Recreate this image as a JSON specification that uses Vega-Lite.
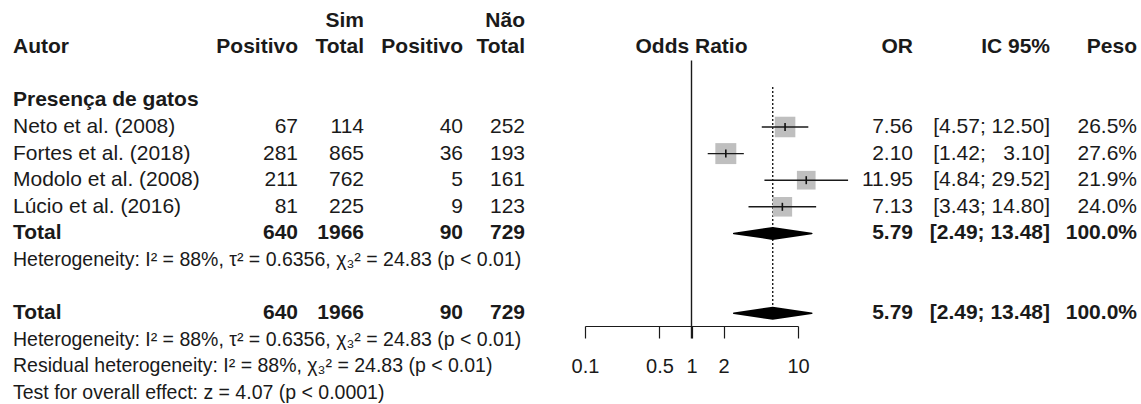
{
  "$schema": "https://vega.github.io/schema/vega-lite/v6.json",
  "width": 1141,
  "height": 404,
  "autosize": {"type": "none"},
  "padding": 0,
  "background": "white",
  "config": {"view": {"stroke": null}, "font": "Liberation Sans", "text": {"font": "Liberation Sans", "color": "#1a1a1a"}},
  "datasets": {
    "rows": [
      {"r": 0, "kind": "header0", "st": "Sim", "nt": "Não"},
      {"r": 1, "kind": "header", "autor": "Autor", "sp": "Positivo", "st": "Total", "np": "Positivo", "nt": "Total", "orv": "OR", "ci": "IC 95%", "peso": "Peso", "forest": "Odds Ratio"},
      {"r": 3, "kind": "group", "autor": "Presença de gatos"},
      {"r": 4, "kind": "study", "autor": "Neto et al. (2008)", "sp": "67", "st": "114", "np": "40", "nt": "252", "orv": "7.56", "ci": "[4.57; 12.50]", "peso": "26.5%", "or": 7.56, "lo": 4.57, "hi": 12.5, "w": 26.5},
      {"r": 5, "kind": "study", "autor": "Fortes et al. (2018)", "sp": "281", "st": "865", "np": "36", "nt": "193", "orv": "2.10", "ci": "[1.42; \u20073.10]", "peso": "27.6%", "or": 2.10, "lo": 1.42, "hi": 3.10, "w": 27.6},
      {"r": 6, "kind": "study", "autor": "Modolo et al. (2008)", "sp": "211", "st": "762", "np": "5", "nt": "161", "orv": "11.95", "ci": "[4.84; 29.52]", "peso": "21.9%", "or": 11.95, "lo": 4.84, "hi": 29.52, "w": 21.9},
      {"r": 7, "kind": "study", "autor": "Lúcio et al. (2016)", "sp": "81", "st": "225", "np": "9", "nt": "123", "orv": "7.13", "ci": "[3.43; 14.80]", "peso": "24.0%", "or": 7.13, "lo": 3.43, "hi": 14.80, "w": 24.0},
      {"r": 8, "kind": "total", "autor": "Total", "sp": "640", "st": "1966", "np": "90", "nt": "729", "orv": "5.79", "ci": "[2.49; 13.48]", "peso": "100.0%", "or": 5.79, "lo": 2.49, "hi": 13.48},
      {"r": 9, "kind": "note", "autor": "Heterogeneity: I² = 88%, τ² = 0.6356, χ₃² = 24.83 (p < 0.01)"},
      {"r": 11, "kind": "overall", "autor": "Total", "sp": "640", "st": "1966", "np": "90", "nt": "729", "orv": "5.79", "ci": "[2.49; 13.48]", "peso": "100.0%", "or": 5.79, "lo": 2.49, "hi": 13.48},
      {"r": 12, "kind": "note", "autor": "Heterogeneity: I² = 88%, τ² = 0.6356, χ₃² = 24.83 (p < 0.01)"},
      {"r": 13, "kind": "note", "autor": "Residual heterogeneity: I² = 88%, χ₃² = 24.83 (p < 0.01)"},
      {"r": 14, "kind": "note", "autor": "Test for overall effect: z = 4.07 (p < 0.0001)"}
    ],
    "diamond": [
      {"r": 8, "val": 2.49, "mid": 0},
      {"r": 8, "val": 5.79, "mid": 1},
      {"r": 8, "val": 13.48, "mid": 0},
      {"r": 11, "val": 2.49, "mid": 0},
      {"r": 11, "val": 5.79, "mid": 1},
      {"r": 11, "val": 13.48, "mid": 0}
    ],
    "cols": [
      {"key": "autor", "idx": 0},
      {"key": "sp", "idx": 1},
      {"key": "st", "idx": 2},
      {"key": "np", "idx": 3},
      {"key": "nt", "idx": 4},
      {"key": "orv", "idx": 5},
      {"key": "ci", "idx": 6},
      {"key": "peso", "idx": 7}
    ]
  },
  "layer": [
    {
      "data": {"name": "rows"},
      "transform": [{"filter": "datum.kind == 'header'"}],
      "mark": {"type": "rule", "color": "#1a1a1a", "strokeWidth": 1.4},
      "encoding": {
        "x": {"datum": 1, "type": "quantitative", "scale": {"type": "log", "domain": [0.1, 10], "range": [585, 798], "nice": false, "zero": false}, "axis": {"values": [0.1, 0.5, 1, 2, 10], "format": "~g", "title": null, "grid": false, "tickSize": 12, "tickWidth": 1.2, "domainWidth": 1.2, "tickColor": "#1a1a1a", "domainColor": "#1a1a1a", "labelColor": "#1a1a1a", "labelFont": "Liberation Sans", "labelFontSize": 20, "labelPadding": 18, "offset": -78, "labelFlush": false, "labelOverlap": false, "labelBound": false}},
        "y": {"datum": 1.5, "type": "quantitative", "scale": {"domain": [-0.774, 14.413], "reverse": true, "nice": false, "zero": false}, "axis": null},
        "y2": {"datum": 11.95}
      }
    },
    {
      "data": {"name": "rows"},
      "transform": [{"filter": "datum.kind == 'overall'"}],
      "mark": {"type": "rule", "color": "#1a1a1a", "strokeWidth": 1.4, "strokeDash": [2, 2]},
      "encoding": {
        "x": {"field": "or", "type": "quantitative", "scale": {"type": "log", "domain": [0.1, 10], "range": [585, 798], "nice": false, "zero": false}, "axis": null},
        "y": {"datum": 2.5, "type": "quantitative", "axis": null},
        "y2": {"datum": 11}
      }
    },
    {
      "data": {"name": "rows"},
      "transform": [{"filter": "datum.kind == 'study'"}],
      "mark": {"type": "point", "shape": "square", "filled": true, "color": "#bfbfbf", "opacity": 1, "strokeWidth": 0},
      "encoding": {
        "x": {"field": "or", "type": "quantitative", "scale": {"type": "log", "domain": [0.1, 10], "range": [585, 798], "nice": false, "zero": false}, "axis": null},
        "y": {"field": "r", "type": "quantitative", "axis": null},
        "size": {"field": "w", "type": "quantitative", "scale": {"domain": [0, 27.6], "range": [0, 440], "zero": true}, "legend": null}
      }
    },
    {
      "data": {"name": "rows"},
      "transform": [{"filter": "datum.kind == 'study'"}],
      "mark": {"type": "rule", "color": "#1a1a1a", "strokeWidth": 1.4},
      "encoding": {
        "x": {"field": "lo", "type": "quantitative", "scale": {"type": "log", "domain": [0.1, 10], "range": [585, 798], "nice": false, "zero": false}, "axis": null},
        "x2": {"field": "hi"},
        "y": {"field": "r", "type": "quantitative", "axis": null}
      }
    },
    {
      "data": {"name": "rows"},
      "transform": [{"filter": "datum.kind == 'study'"}],
      "mark": {"type": "point", "shape": "M0,-1L0,1", "filled": false, "color": "#111", "strokeWidth": 1.6, "opacity": 1, "size": 64},
      "encoding": {
        "x": {"field": "or", "type": "quantitative", "scale": {"type": "log", "domain": [0.1, 10], "range": [585, 798], "nice": false, "zero": false}, "axis": null},
        "y": {"field": "r", "type": "quantitative", "axis": null}
      }
    },
    {
      "data": {"name": "diamond"},
      "mark": {"type": "trail", "color": "#000"},
      "encoding": {
        "x": {"field": "val", "type": "quantitative", "scale": {"type": "log", "domain": [0.1, 10], "range": [585, 798], "nice": false, "zero": false}, "axis": null},
        "y": {"field": "r", "type": "quantitative", "axis": null},
        "size": {"field": "mid", "type": "quantitative", "scale": {"domain": [0, 1], "range": [1.5, 13], "zero": false}, "legend": null},
        "detail": {"field": "r", "type": "nominal"},
        "order": {"field": "val", "type": "quantitative"}
      }
    },
    {
      "data": {"name": "rows"},
      "transform": [{"filter": "datum.kind == 'header'"}],
      "mark": {"type": "text", "align": "center", "baseline": "middle", "fontSize": 21, "fontWeight": "bold"},
      "encoding": {
        "x": {"datum": 1, "type": "quantitative", "scale": {"type": "log", "domain": [0.1, 10], "range": [585, 798], "nice": false, "zero": false}, "axis": null},
        "y": {"field": "r", "type": "quantitative", "axis": null},
        "text": {"field": "forest"}
      }
    },
    {
      "data": {"name": "rows"},
      "transform": [
        {"fold": ["autor", "sp", "st", "np", "nt", "orv", "ci", "peso"], "as": ["key", "txt"]},
        {"filter": "isValid(datum.txt)"},
        {"lookup": "key", "from": {"data": {"name": "cols"}, "key": "key", "fields": ["idx"]}}
      ],
      "encoding": {
        "x": {"field": "idx", "type": "quantitative", "scale": {"domain": [0, 1, 2, 3, 4, 5, 6, 7], "range": [13, 298, 364, 463, 525, 913, 1050, 1137], "nice": false, "zero": false}, "axis": null},
        "y": {"field": "r", "type": "quantitative", "axis": null},
        "text": {"field": "txt"}
      },
      "layer": [
        {
          "transform": [{"filter": "datum.key == 'autor' && datum.kind == 'study'"}],
          "mark": {"type": "text", "align": "left", "baseline": "middle", "fontSize": 21}
        },
        {
          "transform": [{"filter": "datum.key == 'autor' && (datum.kind == 'header' || datum.kind == 'group' || datum.kind == 'total' || datum.kind == 'overall')"}],
          "mark": {"type": "text", "align": "left", "baseline": "middle", "fontSize": 21, "fontWeight": "bold"}
        },
        {
          "transform": [{"filter": "datum.key == 'autor' && datum.kind == 'note'"}],
          "mark": {"type": "text", "align": "left", "baseline": "middle", "fontSize": 19.5}
        },
        {
          "transform": [{"filter": "datum.key != 'autor' && datum.kind == 'study'"}],
          "mark": {"type": "text", "align": "right", "baseline": "middle", "fontSize": 21}
        },
        {
          "transform": [{"filter": "datum.key != 'autor' && datum.kind != 'study'"}],
          "mark": {"type": "text", "align": "right", "baseline": "middle", "fontSize": 21, "fontWeight": "bold"}
        }
      ]
    }
  ],
  "resolve": {"scale": {"x": "independent", "size": "independent"}}
}
